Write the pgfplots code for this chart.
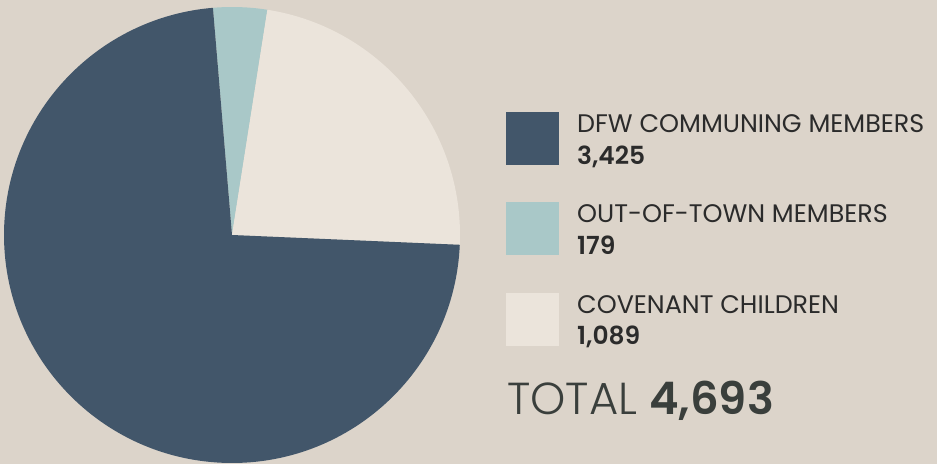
\documentclass[border=0pt]{standalone}
\usepackage{pgfplots}
\usepackage{pgfplotstable}
\pgfplotsset{compat=1.18}
\usepackage{fontspec}
\setmainfont{Poppins}
\newfontfamily\lightfont{Poppins Light}
\newfontfamily\semifont{Poppins SemiBold}

\definecolor{bg}{HTML}{DCD4CA}
\definecolor{cdark}{HTML}{42566A}
\definecolor{cblue}{HTML}{A9C8C8}
\definecolor{ccream}{HTML}{EBE4DB}
\definecolor{txt}{HTML}{2B2B2B}
\definecolor{ttl}{HTML}{3A3F3C}

\pgfplotstableread{
group value
dfw   3425
out   179
cov   1089
}\members

\begin{document}
\begin{tikzpicture}
\pgfplotstablegetelem{0}{value}\of\members \let\vdfw\pgfplotsretval
\pgfplotstablegetelem{1}{value}\of\members \let\vout\pgfplotsretval
\pgfplotstablegetelem{2}{value}\of\members \let\vcov\pgfplotsretval
\pgfmathsetmacro\total{\vdfw+\vout+\vcov}
% slices run clockwise from the top, out-of-town first
\def\astart{94.8}
\pgfmathsetmacro\aone{\astart-360*(\vout/\total)}
\pgfmathsetmacro\atwo{\aone-360*(\vcov/\total)}
\pgfmathsetmacro\aend{\astart-360}
\pgfkeys{/pgf/number format/.cd,fixed,precision=0,1000 sep={,},assume math mode=true}
\begin{axis}[
    width=937bp, height=464bp, scale only axis,
    xmin=0, xmax=937, ymin=0, ymax=464,
    axis lines=none, clip=true,
]
\fill[bg] (axis cs:0,0) rectangle (axis cs:937,464);

% pie, centre (232,229), radius 228
\fill[cblue] (axis cs:232,229) -- ++(\astart:228bp)
    arc[start angle=\astart, end angle=\aone, radius=228bp] -- cycle;
\fill[ccream] (axis cs:232,229) -- ++(\aone:228bp)
    arc[start angle=\aone, end angle=\atwo, radius=228bp] -- cycle;
\fill[cdark] (axis cs:232,229) -- ++(\atwo:228bp)
    arc[start angle=\atwo, end angle=\aend, radius=228bp] -- cycle;

% legend
\fill[cdark]  (axis cs:506,299) rectangle (axis cs:559,352);
\fill[cblue]  (axis cs:506,209) rectangle (axis cs:559,262);
\fill[ccream] (axis cs:506,118) rectangle (axis cs:559,171);

\node[anchor=base west, inner sep=0, text=txt, font=\fontsize{25.5}{25.5}\selectfont]
    at (axis cs:577,331) {DFW COMMUNING MEMBERS};
\node[anchor=base west, inner sep=0, text=txt, font=\fontsize{25}{25}\selectfont\semifont]
    at (axis cs:577,299) {\pgfmathprintnumber{\vdfw}};
\node[anchor=base west, inner sep=0, text=txt, font=\fontsize{25.5}{25.5}\selectfont]
    at (axis cs:577,241) {OUT-OF-TOWN MEMBERS};
\node[anchor=base west, inner sep=0, text=txt, font=\fontsize{25}{25}\selectfont\semifont]
    at (axis cs:577,209) {\pgfmathprintnumber{\vout}};
\node[anchor=base west, inner sep=0, text=txt, font=\fontsize{25.5}{25.5}\selectfont]
    at (axis cs:577,150) {COVENANT CHILDREN};
\node[anchor=base west, inner sep=0, text=txt, font=\fontsize{25}{25}\selectfont\semifont]
    at (axis cs:577,119) {\pgfmathprintnumber{\vcov}};

\node[anchor=base west, inner sep=0, text=ttl, font=\fontsize{45}{45}\selectfont]
    at (axis cs:507,49) {{\lightfont TOTAL} {\semifont\pgfmathprintnumber{\total}}};
\end{axis}
\end{tikzpicture}
\end{document}
